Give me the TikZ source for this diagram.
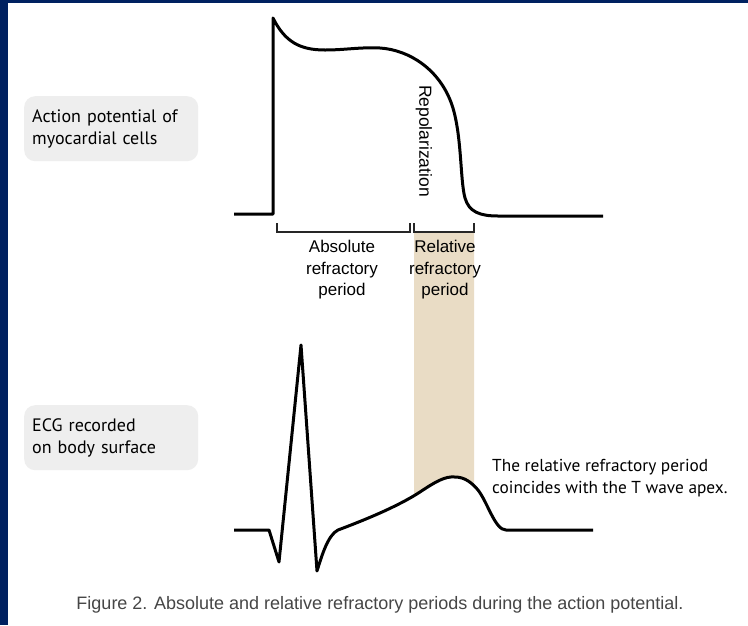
\documentclass[tikz,border=0pt]{standalone}
\usepackage{fontspec}
\setmainfont{Liberation Sans}
\newfontfamily\tagfont{PT Sans}
\usetikzlibrary{calc}
\definecolor{navy}{RGB}{0,33,96}
\definecolor{tanshade}{RGB}{233,220,197}
\definecolor{boxgray}{RGB}{238,238,238}
\definecolor{capgray}{RGB}{70,70,70}
\tikzset{trace/.style={line width=3pt, black, line join=round}}
\tikzset{bracket/.style={line width=1.6pt, black!85}}
\tikzset{tagbox/.style={fill=boxgray, rounded corners=11pt, anchor=north west,
    minimum width=173pt, minimum height=65pt, text width=158pt, inner xsep=8pt,
    align=left, font=\tagfont\fontsize{18}{22}\selectfont}}
\tikzset{period/.style={align=center, font=\fontsize{17}{21.5}\selectfont}}
% T wave, shared by the trace and the shading
\newcommand\twave{(338,530) .. controls (362,521) and (397,507) .. (420,492)
  .. controls (435,482) and (445,476) .. (455,477)
  .. controls (465,477) and (472,483) .. (478,490)}

\begin{document}
\begin{tikzpicture}[x=1pt,y=-1pt]
  % Frame
  \fill[white] (0,0) rectangle (748,625);
  \fill[navy] (0,0) rectangle (8,625);
  \fill[navy] (0,0) rectangle (748,3);
  \useasboundingbox (0,0) rectangle (748,625);

  % Relative period band, down to the T wave
  \begin{scope}
    \clip (414,232) rectangle (474,600);
    \fill[tanshade] \twave -- (478,232) -- (338,232) -- cycle;
  \end{scope}

  % Action potential
  \draw[trace] (234,214) -- (273,214) -- (273,18)
    .. controls (285,42) and (300,50) .. (325,50)
    .. controls (345,50) and (360,47) .. (380,48)
    .. controls (410,50) and (440,70) .. (452,105)
    .. controls (462,135) and (460,180) .. (465,198)
    .. controls (469,212) and (480,216) .. (498,216) -- (603,216);

  % ECG
  \draw[trace] (234,530) -- (269,530) -- (279,562) -- (301,345) -- (317,571)
    .. controls (322,555) and (328,535) .. \twave
    .. controls (488,503) and (495,530) .. (506,530) -- (593,530);

  % Brackets
  \draw[bracket] (277,223) -- (277,232) -- (410,232) -- (410,223);
  \draw[bracket] (414,223) -- (414,232) -- (474,232) -- (474,223);

  % Labels
  \node[tagbox] (aplabel) at (24,96) {Action potential of\\myocardial cells};
  \node[tagbox] (ecglabel) at (24,405) {ECG recorded\\on body surface};
  \node[period] (absolute) at (342,270) {Absolute\\refractory\\period};
  \node[period] (relative) at (445,270) {Relative\\refractory\\period};
  \node[rotate=-90, font=\fontsize{17.5}{20}\selectfont] (repol) at (424,141) {Repolarization};
  \node[anchor=west, align=left, inner sep=3pt, font=\tagfont\fontsize{17.3}{22}\selectfont]
    (apex) at (489,478) {The relative refractory period\\coincides with the T wave apex.};
  \node[text=capgray, font=\fontsize{18}{20}\selectfont] (caption) at (380,605)
    {Figure 2. Absolute and relative refractory periods during the action potential.};
\end{tikzpicture}
\end{document}
